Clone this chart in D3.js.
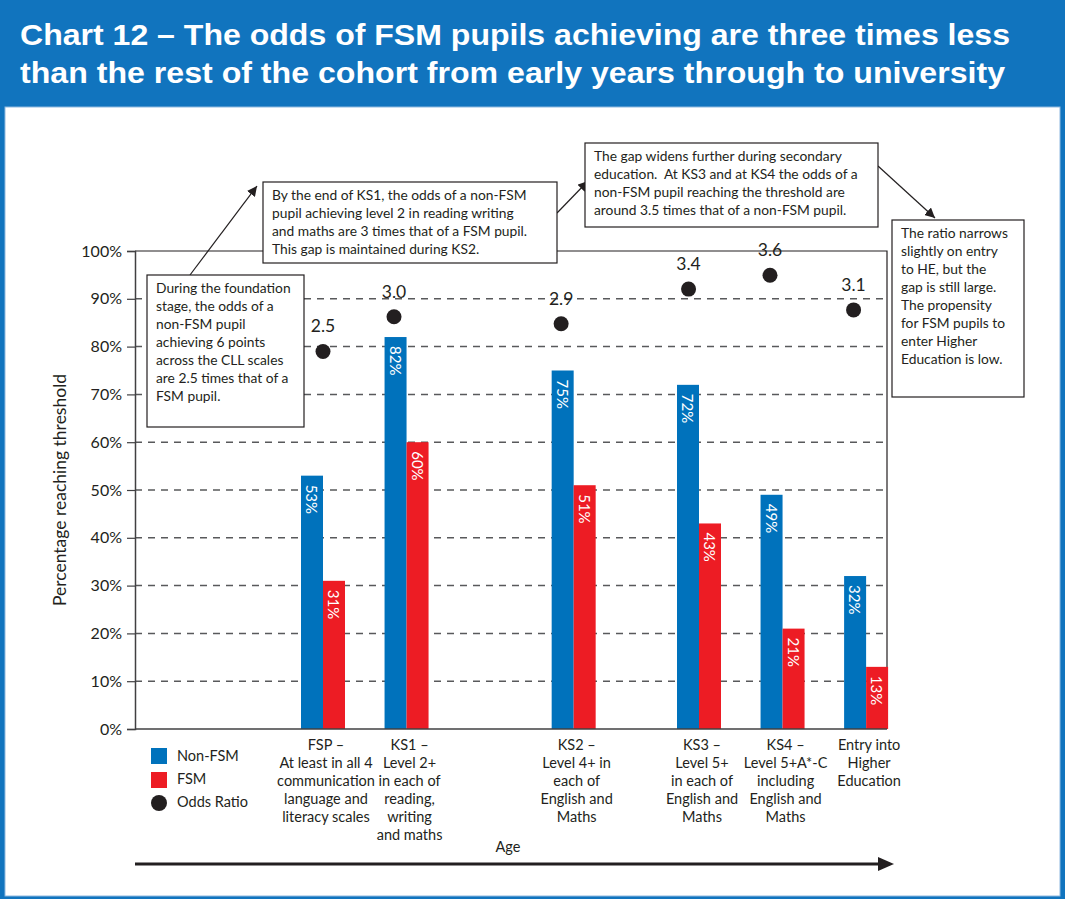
<!DOCTYPE html>
<html>
<head>
<meta charset="utf-8">
<script src="https://cdn.jsdelivr.net/npm/d3@7"></script>
<style>
  body { margin: 0; background: #fff; }
  text { font-family: Lato, "Open Sans", sans-serif; fill: #231f20; }
</style>
</head>
<body>
<div id="chartArea"></div>
<script>
// data
var categories = ["FSP", "KS1", "KS2", "KS3", "KS4", "HE"];
var ages = [5, 7, 11, 14, 16, 18];
var nonFsm = [53, 82, 75, 72, 49, 32];
var fsm = [31, 60, 51, 43, 21, 13];
var oddsRatio = [2.5, 3.0, 2.9, 3.4, 3.6, 3.1];
// age at which each odds ratio marker sits on the chart
var oddsAges = [5.0, 6.7, 10.7, 13.75, 15.7, 17.7];
var catLabels = [
  ["FSP –", "At least in all 4", "communication", "language and", "literacy scales"],
  ["KS1 –", "Level 2+", "in each of", "reading,", "writing", "and maths"],
  ["KS2 –", "Level 4+ in", "each of", "English and", "Maths"],
  ["KS3 –", "Level 5+", "in each of", "English and", "Maths"],
  ["KS4 –", "Level 5+A*-C", "including", "English and", "Maths"],
  ["Entry into", "Higher", "Education"]
];
var yTicks = [0, 10, 20, 30, 40, 50, 60, 70, 80, 90, 100];
var gridTicks = [10, 20, 30, 40, 50, 60, 70, 80, 90];
var titleLines = [
  "Chart 12 – The odds of FSM pupils achieving are three times less",
  "than the rest of the cohort from early years through to university"
];
var legendItems = ["Non-FSM", "FSM", "Odds Ratio"];

function draw() {
  var blue = "#0072bc", red = "#ed1c24", dark = "#231f20";

  var W = 1065, H = 899;
  var svg = d3.select("#chartArea").append("svg")
    .attr("width", W).attr("height", H);

  // header + panel
  svg.append("rect").attr("width", W).attr("height", H).attr("fill", "#1174be");
  svg.append("rect").attr("x", 5).attr("y", 107).attr("width", W - 10).attr("height", H - 110)
    .attr("fill", "#fff").attr("stroke", "#8fb9e0").attr("stroke-width", 1);

  svg.selectAll(".title").data(titleLines).enter().append("text")
    .attr("x", 20).attr("y", function(d, i) { return 45 + i * 38; })
    .attr("textLength", function(d, i) { return i == 0 ? 990 : 985; })
    .attr("lengthAdjust", "spacingAndGlyphs")
    .style("font-family", "'Liberation Sans', Arial, sans-serif")
    .style("font-weight", "bold").style("font-size", "30px").style("fill", "#fff")
    .text(function(d) { return d; });

  // scales
  var pLeft = 135, pRight = 887, pTop = 251, pBottom = 729;
  var x = d3.scaleLinear().domain([0.5, 18.5]).range([pLeft, pRight]);
  var y = d3.scaleLinear().domain([0, 100]).range([pBottom, pTop]);
  var yOdds = d3.scaleLinear().domain([-2.95, 3.95]).range([pBottom, pTop]);
  var barW = 22;

  // gridlines
  svg.selectAll(".grid").data(gridTicks).enter().append("line")
    .attr("x1", pLeft).attr("x2", pRight)
    .attr("y1", function(d) { return y(d); }).attr("y2", function(d) { return y(d); })
    .attr("stroke", "#58595b").attr("stroke-width", 1.5).attr("stroke-dasharray", "7,6");

  // frame top + right
  svg.append("path")
    .attr("d", "M" + pLeft + "," + y(100) + "H" + pRight + "V" + y(0))
    .attr("fill", "none").attr("stroke", dark).attr("stroke-width", 1.2);

  // bars
  svg.selectAll(".barBlue").data(nonFsm).enter().append("rect")
    .attr("x", function(d, i) { return x(ages[i]) - barW; })
    .attr("y", function(d) { return y(d); })
    .attr("width", barW).attr("height", function(d) { return y(0) - y(d); })
    .attr("fill", blue);
  svg.selectAll(".barRed").data(fsm).enter().append("rect")
    .attr("x", function(d, i) { return x(ages[i]); })
    .attr("y", function(d) { return y(d); })
    .attr("width", barW).attr("height", function(d) { return y(0) - y(d); })
    .attr("fill", red);

  function barLabel(data, off) {
    svg.append("g").selectAll("text").data(data).enter().append("text")
      .attr("transform", function(d, i) {
        return "translate(" + (x(ages[i]) + off) + "," + (y(d) + 9) + ") rotate(90)";
      })
      .attr("dominant-baseline", "central")
      .style("font-size", "15px").style("fill", "#fff")
      .text(function(d) { return d + "%"; });
  }
  barLabel(nonFsm, -barW / 2);
  barLabel(fsm, barW / 2);

  // odds ratio dots
  svg.selectAll(".dot").data(oddsRatio).enter().append("circle")
    .attr("cx", function(d, i) { return x(oddsAges[i]); })
    .attr("cy", function(d) { return yOdds(d); })
    .attr("r", 7.5).attr("fill", dark);
  svg.selectAll(".oddsLbl").data(oddsRatio).enter().append("text")
    .attr("x", function(d, i) { return x(oddsAges[i]); })
    .attr("y", function(d) { return yOdds(d) - 19; })
    .attr("text-anchor", "middle").style("font-size", "17.5px")
    .text(function(d) { return d.toFixed(1); });

  // y axis
  var yAxis = svg.append("g").attr("transform", "translate(" + pLeft + ",0)")
    .call(d3.axisLeft(y).tickValues(yTicks).tickSize(8).tickPadding(5)
      .tickFormat(function(d) { return d + "%"; }));
  yAxis.select(".domain").attr("stroke", "#414042").attr("stroke-width", 1.5);
  yAxis.selectAll(".tick line").attr("stroke", "#414042").attr("stroke-width", 1.2);
  yAxis.selectAll(".tick text").style("font-size", "16px").style("font-family", "Lato, sans-serif").attr("fill", dark);

  // x axis line
  svg.append("line").attr("x1", pLeft).attr("x2", pRight).attr("y1", y(0)).attr("y2", y(0))
    .attr("stroke", "#414042").attr("stroke-width", 1.5);

  svg.append("text")
    .attr("transform", "translate(66," + ((pTop + pBottom) / 2) + ") rotate(-90)")
    .attr("text-anchor", "middle").style("font-size", "17.5px")
    .text("Percentage reaching threshold");

  // category labels
  svg.selectAll(".catLbl").data(catLabels).enter().append("text")
    .attr("text-anchor", "middle").style("font-size", "14.5px")
    .each(function(lines, i) {
      d3.select(this).selectAll("tspan").data(lines).enter().append("tspan")
        .attr("x", x(ages[i]) + 3)
        .attr("y", function(d, j) { return 750 + j * 18; })
        .text(function(d) { return d; });
    });

  // legend
  var legend = svg.append("g").attr("transform", "translate(151,748)");
  legend.append("rect").attr("width", 16).attr("height", 16).attr("fill", blue);
  legend.append("rect").attr("y", 24).attr("width", 16).attr("height", 16).attr("fill", red);
  legend.append("circle").attr("cx", 8).attr("cy", 55).attr("r", 8).attr("fill", dark);
  legend.selectAll("text").data(legendItems).enter().append("text")
    .attr("x", 26).attr("y", function(d, i) { return 13 + i * 23; })
    .style("font-size", "14.5px").text(function(d) { return d; });

  // arrow marker
  svg.append("defs").append("marker")
    .attr("id", "arrow").attr("viewBox", "0 0 10 10").attr("refX", 10).attr("refY", 5)
    .attr("markerWidth", 10).attr("markerHeight", 10).attr("markerUnits", "userSpaceOnUse")
    .attr("orient", "auto")
    .append("path").attr("d", "M0,0L10,5L0,10z").attr("fill", dark);

  // age arrow
  svg.append("line").attr("x1", pLeft).attr("x2", 880).attr("y1", 864).attr("y2", 864)
    .attr("stroke", dark).attr("stroke-width", 3);
  svg.append("path").attr("d", "M878,857L894,864L878,871z").attr("fill", dark);
  svg.append("text").attr("x", 508).attr("y", 852).attr("text-anchor", "middle")
    .style("font-size", "14.5px").text("Age");

  // annotations
  var notes = [
    { box: [147, 275, 157, 152], lines: ["During the foundation", "stage, the odds of a", "non-FSM pupil",
        "achieving 6 points", "across the CLL scales", "are 2.5 times that of a", "FSM pupil."] },
    { box: [263, 182, 294, 81], lines: ["By the end of KS1, the odds of a non-FSM",
        "pupil achieving level 2 in reading writing", "and maths are 3 times that of a FSM pupil.",
        "This gap is maintained during KS2."] },
    { box: [585, 143, 293, 84], lines: ["The gap widens further during secondary",
        "education.  At KS3 and at KS4 the odds of a", "non-FSM pupil reaching the threshold are",
        "around 3.5 times that of a non-FSM pupil."] },
    { box: [892, 220, 132, 177], lines: ["The ratio narrows", "slightly on entry", "to HE, but the",
        "gap is still large.", "The propensity", "for FSM pupils to", "enter Higher", "Education is low."] }
  ];
  var arrows = [[190, 275, 257, 186], [557, 213, 588, 181], [878, 166, 935, 218]];

  svg.selectAll(".arrowLine").data(arrows).enter().append("line")
    .attr("x1", function(d) { return d[0]; }).attr("y1", function(d) { return d[1]; })
    .attr("x2", function(d) { return d[2]; }).attr("y2", function(d) { return d[3]; })
    .attr("stroke", dark).attr("stroke-width", 1.2).attr("marker-end", "url(#arrow)");

  notes.forEach(function(n) {
    var g = svg.append("g");
    g.append("rect").attr("x", n.box[0]).attr("y", n.box[1])
      .attr("width", n.box[2]).attr("height", n.box[3])
      .attr("fill", "#fff").attr("stroke", dark).attr("stroke-width", 1.2);
    g.append("text").style("font-size", "13.8px").attr("xml:space", "preserve")
      .selectAll("tspan").data(n.lines).enter().append("tspan")
      .attr("x", n.box[0] + 9)
      .attr("y", function(d, j) { return n.box[1] + 18 + j * 18; })
      .text(function(d) { return d; });
  });
}

draw();
</script>
</body>
</html>
